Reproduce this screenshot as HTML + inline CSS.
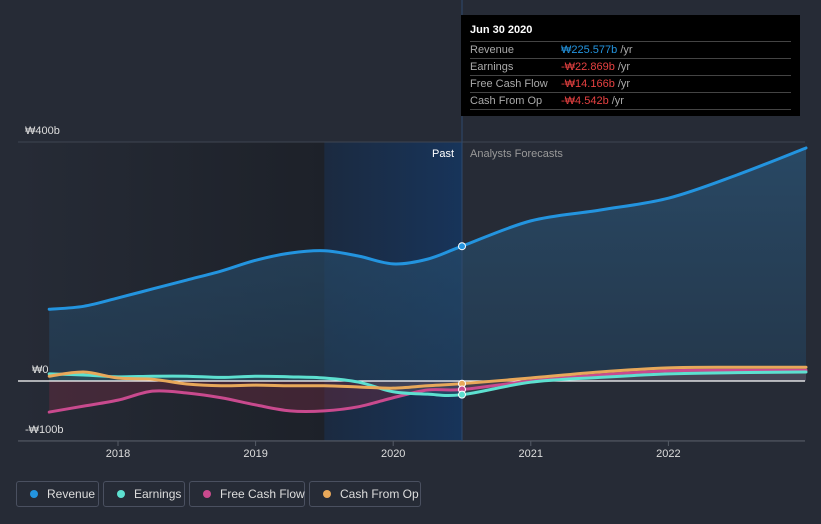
<!DOCTYPE html>
<html><head><meta charset="utf-8">
<style>
body{margin:0;background:#262b36;font-family:"Liberation Sans","Noto Sans CJK KR",sans-serif;}
svg{display:block}
.tt{position:absolute;left:461px;top:15px;width:339px;height:101px;background:#000;color:#fff;font-size:11px}
.tt .h{font-weight:bold;padding:9px 0 0 9px;height:17px;font-size:11px}
.tt .r{margin:0 9px;border-top:1px solid #444;height:16px;line-height:16px;color:#aaa;position:relative;font-size:11px}
.tt .r span{position:absolute;left:91px}
.leg{position:absolute;top:481px;height:26px;border:1px solid #4a5060;border-radius:3px;color:#ddd;font-size:12px;line-height:24px;box-sizing:border-box;padding-left:30px;white-space:nowrap}
.leg i{position:absolute;left:13px;top:8px;width:8px;height:8px;border-radius:50%}
</style></head><body>
<div style="position:relative;width:821px;height:524px;overflow:hidden">
<svg id="c" width="821" height="524"></svg>
<div class="tt">
<div class="h">Jun 30 2020</div>
<div class="r">Revenue<span style="color:#2394df">₩225.577b <b style="font-weight:normal;color:#aaa">/yr</b></span></div>
<div class="r">Earnings<span style="color:#e64141">-₩22.869b <b style="font-weight:normal;color:#aaa">/yr</b></span></div>
<div class="r">Free Cash Flow<span style="color:#e64141">-₩14.166b <b style="font-weight:normal;color:#aaa">/yr</b></span></div>
<div class="r">Cash From Op<span style="color:#e64141">-₩4.542b <b style="font-weight:normal;color:#aaa">/yr</b></span></div>
<div class="r" style="height:0"></div>
</div>
<div class="leg" style="left:16px;width:83px"><i style="background:#2394df"></i>Revenue</div>
<div class="leg" style="left:103px;width:82px"><i style="background:#5de0d0"></i>Earnings</div>
<div class="leg" style="left:189px;width:116px"><i style="background:#c94a8e"></i>Free Cash Flow</div>
<div class="leg" style="left:309px;width:112px"><i style="background:#e8a85a"></i>Cash From Op</div>
</div>
<script>
const times=[2017.5,2017.75,2018,2018.25,2018.5,2018.75,2019,2019.25,2019.5,2019.75,2020,2020.25,2020.5,2021,2021.5,2022,2022.5,2023];
const revenue=[120,125,139,154,169,184,202,214,218,209,196,204,225.6,268,286,306,345,390];
const earnings=[12,10,7,8,8,6,8,7,5,-2,-18,-22,-22.9,-2,6,12,14,15];
const fcf=[-52,-42,-32,-17,-20,-28,-40,-50,-50,-43,-28,-15,-14.2,0,10,17,18,18];
const cfo=[8,15,5,3,-5,-8,-7,-8,-8,-10,-12,-8,-4.5,5,15,22,23,23];
const yTicks=[400,0,-100];
const yLabels=["₩400b","₩0","-₩100b"];
const xTicks=[2018,2019,2020,2021,2022];
const pastEnd=2020.5, highlightStart=2019.5;
const NS="http://www.w3.org/2000/svg";
const svg=document.getElementById('c');
const X=t=>118+(t-2018)*137.6;
const Y=v=>381-v*0.5975;
function el(tag,attrs,parent){const e=document.createElementNS(NS,tag);for(const k in attrs)e.setAttribute(k,attrs[k]);(parent||svg).appendChild(e);return e;}
const defs=el('defs',{});
const g1=el('linearGradient',{id:'hl',x1:0,x2:1,y1:0,y2:0},defs);
el('stop',{offset:0,'stop-color':'#1b2a40'},g1);el('stop',{offset:1,'stop-color':'#17345a'},g1);
const g0=el('linearGradient',{id:'pb',x1:0,x2:1,y1:0,y2:0},defs);
el('stop',{offset:0,'stop-color':'#262b36'},g0);el('stop',{offset:1,'stop-color':'#1d2129'},g0);
const g2=el('linearGradient',{id:'rf',x1:0,x2:0,y1:0,y2:1},defs);
el('stop',{offset:0,'stop-color':'#2a5578','stop-opacity':0.7},g2);el('stop',{offset:1,'stop-color':'#23405a','stop-opacity':0.6},g2);
const plotTop=Y(400), plotH=441-Y(400);
let r=el('rect',{x:18,y:plotTop,width:X(highlightStart)-18,height:plotH,fill:'url(#pb)'});

r=el('rect',{x:X(highlightStart),y:plotTop,width:X(pastEnd)-X(highlightStart),height:plotH,fill:'url(#hl)'});

yTicks.forEach((v,i)=>{
 if(v!==0){const l=el('line',{x1:18,x2:805,y1:Y(v),y2:Y(v),stroke:'#3f4551','stroke-width':1});
 }
 const t=el('text',{x:v===0?32:25,y:Y(v)-8,fill:'#ddd','font-size':11});t.textContent=yLabels[i];
 
});
const ax=el('line',{x1:18,x2:805,y1:441,y2:441,stroke:'#555b66'});

xTicks.forEach(v=>{
 const l=el('line',{x1:X(v),x2:X(v),y1:441,y2:446,stroke:'#555b66'});
 
 const t=el('text',{x:X(v),y:457,fill:'#ddd','font-size':11,'text-anchor':'middle'});t.textContent=v;
 
});
function path(vals){
 const p=times.map((t,i)=>[X(t),Y(vals[i])]);
 let d='M'+p[0][0]+','+p[0][1];
 for(let i=0;i<p.length-1;i++){const p0=p[Math.max(0,i-1)],p1=p[i],p2=p[i+1],p3=p[Math.min(p.length-1,i+2)];
  d+=' C'+(p1[0]+(p2[0]-p0[0])/6)+','+(p1[1]+(p2[1]-p0[1])/6)+' '+(p2[0]-(p3[0]-p1[0])/6)+','+(p2[1]-(p3[1]-p1[1])/6)+' '+p2[0]+','+p2[1];}
 return d;}
function area(vals){return path(vals)+' L'+X(times[times.length-1])+','+Y(0)+' L'+X(times[0])+','+Y(0)+' Z';}
let a=el('path',{d:area(revenue),fill:'url(#rf)'});

a=el('path',{d:area(fcf),fill:'#6b2a40','fill-opacity':0.45});

a=el('path',{d:area(earnings),fill:'#5de0d0','fill-opacity':0.12});

const zl=el('line',{x1:18,x2:805,y1:Y(0),y2:Y(0),stroke:'#fff','stroke-width':1.2});

const series=[['fcf',fcf,'#c94a8e'],['earnings',earnings,'#5de0d0'],['cfo',cfo,'#e8a85a'],['revenue',revenue,'#2394df']];
series.forEach(([n,v,c])=>{
 const p=el('path',{d:path(v),fill:'none',stroke:c,'stroke-width':3,'stroke-linecap':'round'});
 
});
const pl=el('line',{x1:X(pastEnd),x2:X(pastEnd),y1:0,y2:441,stroke:'#2e4a6e'});

const idx=times.indexOf(pastEnd);
[['cfo',cfo,'#e8a85a'],['fcf',fcf,'#c94a8e'],['earnings',earnings,'#5de0d0'],['revenue',revenue,'#2394df']].forEach(([n,v,c])=>{
 const m=el('circle',{cx:X(pastEnd),cy:Y(v[idx]),r:3.5,fill:c,stroke:'#fff','stroke-width':1});
 
});
let t=el('text',{x:X(pastEnd)-8,y:157,fill:'#fff','font-size':11,'text-anchor':'end'});t.textContent='Past';

t=el('text',{x:X(pastEnd)+8,y:157,fill:'#999','font-size':11});t.textContent='Analysts Forecasts';

</script>
</body></html>
